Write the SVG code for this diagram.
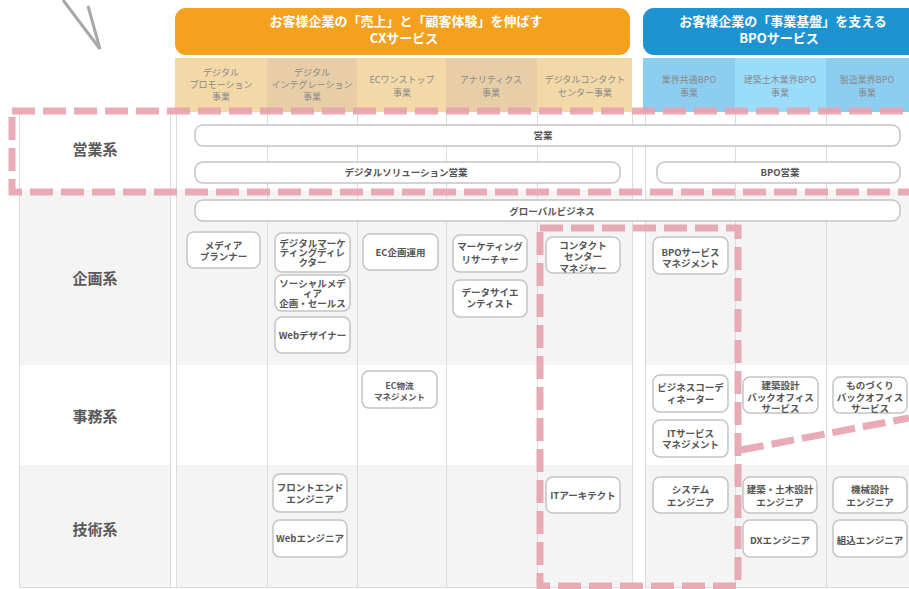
<svg xmlns="http://www.w3.org/2000/svg" width="909" height="589" viewBox="0 0 909 589">
<style>
.t{font-family:"Noto Sans CJK JP","Noto Sans",sans-serif;font-weight:bold;}
.hd{fill:#fff;font-size:13px;text-anchor:middle;}
.sh{fill:#8a8a8a;font-size:9px;text-anchor:middle;font-weight:normal;}
.rl{fill:#5a5a5a;font-size:15px;text-anchor:middle;}
.bx{fill:#fff;stroke:#c4c4c4;stroke-width:1.5;}
.bt{fill:#555;font-size:9.5px;text-anchor:middle;}
.vl{stroke:#dcdcdc;stroke-width:1;}
.hl{fill:none;stroke:#E7A2AD;stroke-width:7;stroke-dasharray:23 8;opacity:0.9;}
</style>
<rect width="909" height="589" fill="#fff"/>
<g id="grid">
  <rect x="19" y="112" width="151" height="78" fill="#fff"/>
  <rect x="19" y="190" width="151" height="175" fill="#f4f4f4"/>
  <rect x="19" y="365" width="151" height="100" fill="#fff"/>
  <rect x="19" y="465" width="151" height="122" fill="#f4f4f4"/>
  <rect x="176" y="112" width="456" height="78" fill="#fff"/>
  <rect x="176" y="190" width="456" height="175" fill="#f4f4f4"/>
  <rect x="176" y="365" width="456" height="100" fill="#fff"/>
  <rect x="176" y="465" width="456" height="122" fill="#f4f4f4"/>
  <rect x="645" y="112" width="264" height="78" fill="#fff"/>
  <rect x="645" y="190" width="264" height="175" fill="#f4f4f4"/>
  <rect x="645" y="365" width="264" height="100" fill="#fff"/>
  <rect x="645" y="465" width="264" height="122" fill="#f4f4f4"/>
  <line class="vl" x1="19.5" y1="112" x2="19.5" y2="587"/>
  <line class="vl" x1="170.5" y1="112" x2="170.5" y2="587"/>
  <line class="vl" x1="176.5" y1="112" x2="176.5" y2="587"/>
  <line class="vl" x1="267.5" y1="112" x2="267.5" y2="587"/>
  <line class="vl" x1="357.5" y1="112" x2="357.5" y2="587"/>
  <line class="vl" x1="446.5" y1="112" x2="446.5" y2="587"/>
  <line class="vl" x1="537.5" y1="112" x2="537.5" y2="587"/>
  <line class="vl" x1="632.5" y1="112" x2="632.5" y2="587"/>
  <line class="vl" x1="645.5" y1="112" x2="645.5" y2="587"/>
  <line class="vl" x1="735.5" y1="112" x2="735.5" y2="587"/>
  <line class="vl" x1="826.5" y1="112" x2="826.5" y2="587"/>
  <line class="vl" x1="19" y1="587.5" x2="632" y2="587.5"/>
  <line class="vl" x1="645" y1="587.5" x2="909" y2="587.5"/>
</g>
<g id="header-cx">
  <rect x="175" y="8" width="455" height="47" rx="11" fill="#F4A11F"/>
  <text class="t hd" x="406" y="26">お客様企業の「売上」と「顧客体験」を伸ばす</text>
  <text class="t hd" x="404" y="43">CXサービス</text>
</g>
<g id="header-bpo">
  <rect x="643" y="8" width="280" height="47" rx="11" fill="#1E93D2"/>
  <text class="t hd" x="783" y="26">お客様企業の「事業基盤」を支える</text>
  <text class="t hd" x="779" y="43">BPOサービス</text>
</g>
<g id="subheaders">
  <rect x="175" y="58" width="92" height="54" fill="#F3D8A8"/>
  <rect x="267" y="58" width="90" height="54" fill="#E7CEA6"/>
  <rect x="357" y="58" width="89" height="54" fill="#F3D8A8"/>
  <rect x="446" y="58" width="91" height="54" fill="#E7CEA6"/>
  <rect x="537" y="58" width="95" height="54" fill="#F3D8A8"/>
  <rect x="643" y="58" width="92" height="54" fill="#8DCDF0"/>
  <rect x="735" y="58" width="91" height="54" fill="#9BDCFB"/>
  <rect x="826" y="58" width="83" height="54" fill="#8DCDF0"/>
  <text class="t sh" x="221" y="76">デジタル<tspan x="221" y="88">プロモーション</tspan><tspan x="221" y="100">事業</tspan></text>
  <text class="t sh" x="312" y="76">デジタル<tspan x="312" y="88">インテグレーション</tspan><tspan x="312" y="100">事業</tspan></text>
  <text class="t sh" x="402" y="83">ECワンストップ<tspan x="402" y="96">事業</tspan></text>
  <text class="t sh" x="491" y="83">アナリティクス<tspan x="491" y="96">事業</tspan></text>
  <text class="t sh" x="585" y="83">デジタルコンタクト<tspan x="585" y="96">センター事業</tspan></text>
  <text class="t sh" x="689" y="83">業界共通BPO<tspan x="689" y="96">事業</tspan></text>
  <text class="t sh" x="780" y="83">建築土木業界BPO<tspan x="780" y="96">事業</tspan></text>
  <text class="t sh" x="867" y="83">製造業界BPO<tspan x="867" y="96">事業</tspan></text>
</g>
<g id="row-labels">
  <text class="t rl" x="95" y="155">営業系</text>
  <text class="t rl" x="95" y="284">企画系</text>
  <text class="t rl" x="95" y="422">事務系</text>
  <text class="t rl" x="95" y="535">技術系</text>
</g>
<g id="bar-eigyo"><rect class="bx" x="195" y="125" width="705" height="21" rx="8"/><text class="t bt" x="543" y="138.5">営業</text></g>
<g id="bar-digital-solution"><rect class="bx" x="195" y="162" width="425" height="21" rx="8"/><text class="t bt" x="406" y="175.5">デジタルソリューション営業</text></g>
<g id="bar-bpo-eigyo"><rect class="bx" x="657" y="162" width="243" height="21" rx="8"/><text class="t bt" x="780" y="175.5">BPO営業</text></g>
<g id="bar-global"><rect class="bx" x="195" y="200" width="705" height="21" rx="8"/><text class="t bt" x="552" y="215">グローバルビジネス</text></g>

<g id="n-media-planner"><rect class="bx" x="187" y="232" width="73" height="36" rx="7"/><text class="t bt" x="223.5" y="248.5">メディア<tspan x="223.5" y="260">プランナー</tspan></text></g>
<g id="n-digital-marketing"><rect class="bx" x="275" y="233" width="75" height="39" rx="7"/><text class="t bt" x="312.5" y="246.5">デジタルマーケ<tspan x="312.5" y="256">ティングディレ</tspan><tspan x="312.5" y="265.5">クター</tspan></text></g>
<g id="n-social-media"><rect class="bx" x="275" y="275" width="75" height="36" rx="7"/><text class="t bt" x="312.5" y="286.5">ソーシャルメデ<tspan x="312.5" y="296.5">ィア</tspan><tspan x="312.5" y="306.5">企画・セールス</tspan></text></g>
<g id="n-web-designer"><rect class="bx" x="275" y="317" width="75" height="36" rx="7"/><text class="t bt" x="312.5" y="338.5">Webデザイナー</text></g>
<g id="n-ec-planning"><rect class="bx" x="363" y="234" width="75" height="36" rx="7"/><text class="t bt" x="400.5" y="255.5">EC企画運用</text></g>
<g id="n-marketing-researcher"><rect class="bx" x="453" y="235" width="74" height="37" rx="7"/><text class="t bt" x="490" y="250">マーケティング<tspan x="490" y="262.5">リサーチャー</tspan></text></g>
<g id="n-data-scientist"><rect class="bx" x="453" y="280" width="74" height="37" rx="7"/><text class="t bt" x="490" y="295.5">データサイエ<tspan x="490" y="306.5">ンティスト</tspan></text></g>
<g id="n-contact-center-manager"><rect class="bx" x="546" y="237" width="74" height="36" rx="7"/><text class="t bt" x="583" y="248.5">コンタクト<tspan x="583" y="260">センター</tspan><tspan x="583" y="271.5">マネジャー</tspan></text></g>
<g id="n-bpo-service-management"><rect class="bx" x="653" y="237" width="75" height="37" rx="7"/><text class="t bt" x="690.5" y="255.5">BPOサービス<tspan x="690.5" y="266.5">マネジメント</tspan></text></g>

<g id="n-ec-logistics"><rect class="bx" x="362" y="371" width="75" height="37" rx="7"/><text class="t bt" x="399.5" y="388.5" style="font-size:8.5px">EC物流<tspan x="399.5" y="399.5">マネジメント</tspan></text></g>
<g id="n-business-coordinator"><rect class="bx" x="653" y="375" width="75" height="37" rx="7"/><text class="t bt" x="690.5" y="390.5">ビジネスコーデ<tspan x="690.5" y="403">ィネーター</tspan></text></g>
<g id="n-it-service-management"><rect class="bx" x="653" y="420" width="75" height="37" rx="7"/><text class="t bt" x="690.5" y="436.5">ITサービス<tspan x="690.5" y="447.5">マネジメント</tspan></text></g>
<g id="n-construction-backoffice"><rect class="bx" x="743" y="377" width="75" height="36" rx="7"/><text class="t bt" x="780.5" y="388.5">建築設計<tspan x="780.5" y="400.5">バックオフィス</tspan><tspan x="780.5" y="412">サービス</tspan></text></g>
<g id="n-monozukuri-backoffice"><rect class="bx" x="833" y="377" width="74" height="36" rx="7"/><text class="t bt" x="870" y="388.5">ものづくり<tspan x="870" y="400.5">バックオフィス</tspan><tspan x="870" y="412">サービス</tspan></text></g>

<g id="n-frontend-engineer"><rect class="bx" x="273" y="474" width="74" height="38" rx="7"/><text class="t bt" x="310" y="490.5">フロントエンド<tspan x="310" y="502.5">エンジニア</tspan></text></g>
<g id="n-web-engineer"><rect class="bx" x="273" y="520" width="74" height="37" rx="7"/><text class="t bt" x="310" y="541.5">Webエンジニア</text></g>
<g id="n-it-architect"><rect class="bx" x="546" y="477" width="74" height="36" rx="7"/><text class="t bt" x="583" y="498.5">ITアーキテクト</text></g>
<g id="n-system-engineer"><rect class="bx" x="653" y="477" width="75" height="36" rx="7"/><text class="t bt" x="690.5" y="492.5">システム<tspan x="690.5" y="505.5">エンジニア</tspan></text></g>
<g id="n-construction-engineer"><rect class="bx" x="743" y="477" width="74" height="36" rx="7"/><text class="t bt" x="780" y="492.5">建築・土木設計<tspan x="780" y="505.5">エンジニア</tspan></text></g>
<g id="n-dx-engineer"><rect class="bx" x="743" y="520" width="74" height="37" rx="7"/><text class="t bt" x="780" y="543.5">DXエンジニア</text></g>
<g id="n-mechanical-engineer"><rect class="bx" x="833" y="477" width="74" height="36" rx="7"/><text class="t bt" x="870" y="492.5">機械設計<tspan x="870" y="505.5">エンジニア</tspan></text></g>
<g id="n-embedded-engineer"><rect class="bx" x="833" y="520" width="74" height="37" rx="7"/><text class="t bt" x="870" y="543.5">組込エンジニア</text></g>

<g id="connectors">
  <polyline points="63,0 100,49 88,6" fill="none" stroke="#a8a8a8" stroke-width="3" stroke-linejoin="miter"/>
  <rect class="hl" x="12" y="111" width="910" height="81"/>
  <rect class="hl" x="540" y="228" width="198" height="358"/>
  <line class="hl" x1="741" y1="450" x2="909" y2="418"/>
</g>
</svg>
